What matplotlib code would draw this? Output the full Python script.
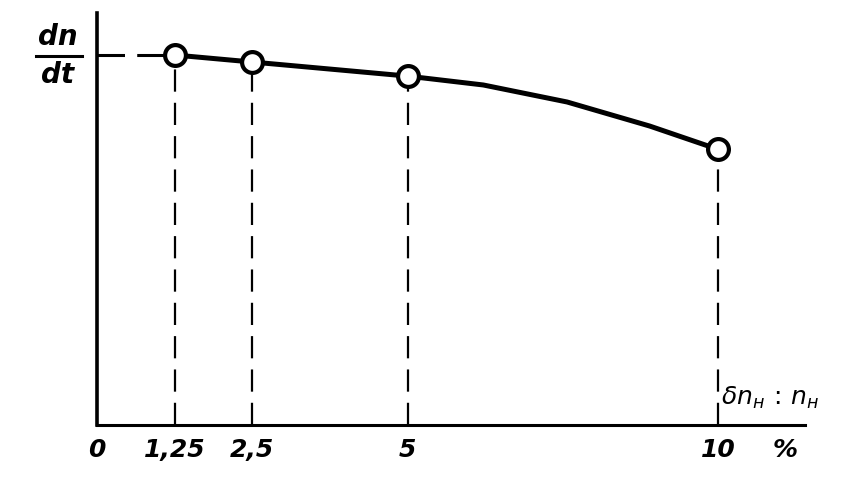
import numpy as np
import matplotlib.pyplot as plt

# measured points (percent, relative dn/dt)
pts_x = [1.25, 2.5, 5, 10]
pts_y = [1.0, 0.981, 0.943, 0.745]

# curve
curve_x = [1.25, 2.5, 5, 6.22, 7.57, 8.9, 10]
curve_y = [1.0, 0.981, 0.943, 0.919, 0.873, 0.808, 0.745]

tick_vals = [0, 1.25, 2.5, 5, 10]
tick_labels = ['0', '1,25', '2,5', '5', '10']

W, H = 867, 496
fig = plt.figure(figsize=(W / 100, H / 100), dpi=100)

# axes placed by pixel: y axis at px 97, x axis at px 425
left, right, bottom, top = 97, 805, 425, 13
ax = fig.add_axes([left / W, 1 - bottom / H, (right - left) / W, (bottom - top) / H])
ax.set_xlim(0, (right - left) / 62.1)
ax.set_ylim(0, (bottom - top) / 370)

for s in ['top', 'right']:
    ax.spines[s].set_visible(False)
ax.spines['left'].set_linewidth(2.6)
ax.spines['bottom'].set_linewidth(2.2)
ax.set_xticks([])
ax.set_yticks([])

def px(x, y):
    return x / W, 1 - y / H

# main curve
ax.plot(curve_x, curve_y, color='black', lw=3.6, solid_joinstyle='round',
        solid_capstyle='round', zorder=3)

# dashed guide lines
ax.plot([0, pts_x[0]], [pts_y[0], pts_y[0]], color='black', lw=2.2,
        dashes=(9, 4), clip_on=False, zorder=2)
for xv, yv in zip(pts_x, pts_y):
    ax.plot([xv, xv], [0, yv], color='black', lw=1.6, dashes=(10, 5), zorder=2)

ax.plot(pts_x, pts_y, 'o', ms=15, mfc='white', mec='black', mew=3, zorder=4, clip_on=False)

# tick labels
font = dict(style='italic', weight='bold', fontsize=18, color='black',
            ha='center', va='center', family='DejaVu Sans')
for v, lab in zip(tick_vals, tick_labels):
    xpix = left + v * 62.1
    fig.text(*px(xpix, 450), lab, **font)
fig.text(*px(785, 450), '%', **font)

# y label dn/dt
fig.text(*px(58, 37), 'dn', **dict(font, fontsize=20))
fig.text(*px(58, 75), 'dt', **dict(font, fontsize=20))
fig.add_artist(plt.Line2D([36 / W, 82 / W], [1 - 56 / H, 1 - 56 / H],
                          color='black', lw=2.2))

# x quantity label
fig.text(*px(770, 398), r'$\delta n_{н}\,:\,n_{н}$', fontsize=18, ha='center',
         va='center', style='italic')

fig.savefig('out.png', dpi=100)
